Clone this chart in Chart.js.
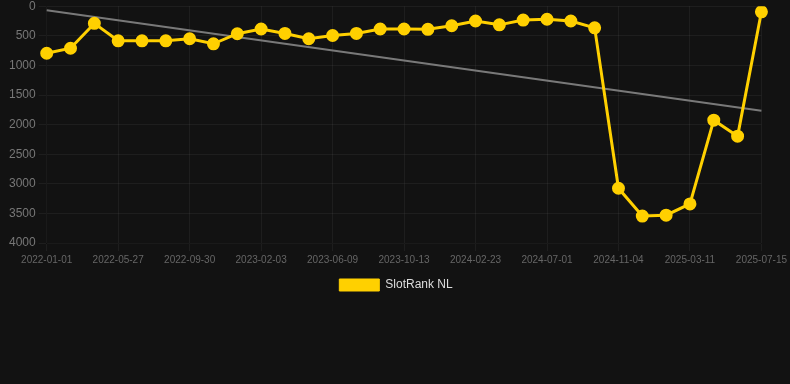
<!DOCTYPE html>
<html>
<head>
<meta charset="utf-8">
<script src="https://cdn.jsdelivr.net/npm/chart.js@4"></script>
<style>
    html, body { margin: 0; padding: 0; background: #121212; overflow: hidden; }
    #wrap { width: 790px; height: 305px; margin-top: -4px; position: relative; }
</style>
</head>
<body>
<div id="wrap"><canvas id="rank-chart"></canvas></div>
<script>
// Dates of each sample
const dates = [
    '2022-01-01', '2022-02-18', '2022-04-08', '2022-05-27', '2022-07-08', '2022-08-19',
    '2022-09-30', '2022-11-11', '2022-12-23', '2023-02-03', '2023-03-17', '2023-04-28',
    '2023-06-09', '2023-07-21', '2023-09-01', '2023-10-13', '2023-11-24', '2024-01-05',
    '2024-02-23', '2024-04-05', '2024-05-17', '2024-07-01', '2024-08-12', '2024-09-23',
    '2024-11-04', '2024-12-16', '2025-01-27', '2025-03-11', '2025-04-22', '2025-06-03',
    '2025-07-15'
];

// SlotRank NL values
const rankNL = [
    795, 710, 290, 585, 585, 585, 550, 635, 465, 385, 460, 550,
    495, 460, 385, 385, 390, 330, 250, 315, 235, 220, 250, 365,
    3075, 3545, 3530, 3340, 1925, 2195, 95
];

// Trend line, only the two ends are known
const trend = [68];
for (let i = 1; i < dates.length - 1; i++) trend.push(null);
trend.push(1765);

const yTicks = [0, 500, 1000, 1500, 2000, 2500, 3000, 3500, 4000];

const ctx = document.getElementById('rank-chart').getContext('2d');
const rankChart = new Chart(ctx, {
    type: 'line',
    data: {
        labels: dates,
        datasets: [{
            label: 'SlotRank NL',
            data: rankNL,
            borderColor: 'rgb(255, 208, 0)',
            backgroundColor: 'rgb(255, 208, 0)',
            borderWidth: 3,
            pointRadius: 5,
            pointHoverRadius: 6,
            tension: 0
        }, {
            label: 'Trend',
            data: trend,
            borderColor: 'rgba(140, 140, 140, 0.85)',
            borderWidth: 2,
            pointRadius: 0,
            spanGaps: true,
            tension: 0
        }]
    },
    options: {
        responsive: true,
        maintainAspectRatio: false,
        animation: false,
        layout: { padding: { left: 6, right: 4 } },
        scales: {
            x: {
                grid: { color: 'rgba(255, 255, 255, 0.05)' },
                ticks: {
                    color: '#666',
                    font: { size: 10 },
                    autoSkip: false,
                    maxRotation: 0,
                    callback: (value, index) => index % 3 === 0 ? dates[index] : null
                }
            },
            y: {
                reverse: true,
                min: yTicks[0],
                max: yTicks[yTicks.length - 1],
                grid: { color: 'rgba(255, 255, 255, 0.05)' },
                ticks: {
                    color: '#777',
                    font: { size: 12 },
                    stepSize: 500,
                    callback: (value) => String(value)
                }
            }
        },
        plugins: {
            legend: {
                position: 'bottom',
                labels: {
                    color: '#ddd',
                    font: { size: 12 },
                    boxWidth: 40,
                    boxHeight: 12,
                    filter: (item) => item.text !== 'Trend',
                    generateLabels: (chart) => {
                        const items = Chart.defaults.plugins.legend.labels.generateLabels(chart);
                        items.forEach(item => { item.lineWidth = 1; });
                        return items;
                    }
                }
            },
            tooltip: { enabled: false }
        }
    }
});
</script>
</body>
</html>
